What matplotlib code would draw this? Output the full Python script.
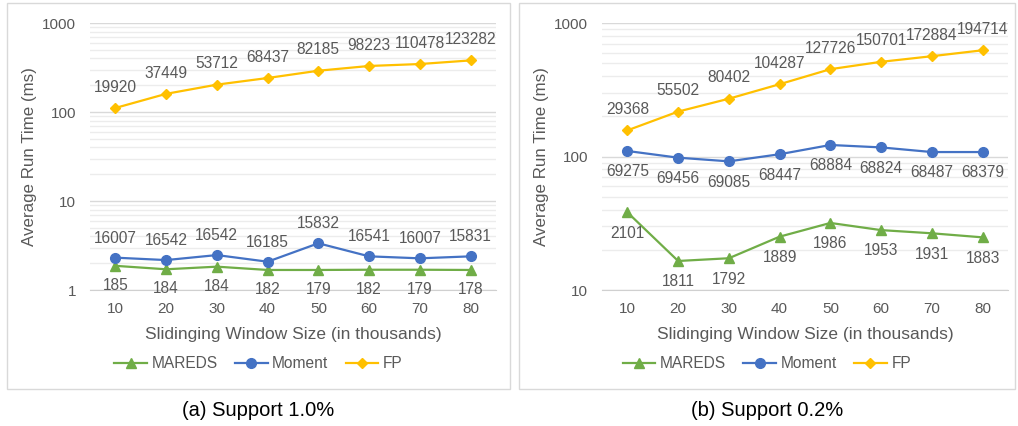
import matplotlib.pyplot as plt
import matplotlib.ticker as mticker
from matplotlib.patches import Rectangle
import numpy as np

plt.rcParams['font.family'] = ['Liberation Sans', 'DejaVu Sans']

# Datos
windows = ["10", "20", "30", "40", "50", "60", "70", "80"]

# (a) Support 1.0%
mareds_a = [1.87, 1.71, 1.83, 1.68, 1.68, 1.69, 1.69, 1.68]
moment_a = [2.31, 2.17, 2.47, 2.08, 3.35, 2.39, 2.27, 2.39]
fp_a = [111, 160, 203, 241, 291, 329, 346, 380]
mareds_a_lbl = ["185", "184", "184", "182", "179", "182", "179", "178"]
moment_a_lbl = ["16007", "16542", "16542", "16185", "15832", "16541", "16007", "15831"]
fp_a_lbl = ["19920", "37449", "53712", "68437", "82185", "98223", "110478", "123282"]

# (b) Support 0.2%
mareds_b = [38.2, 16.5, 17.3, 25.1, 31.8, 28.1, 26.6, 24.8]
moment_b = [110, 98, 92, 104, 122, 117, 108, 108]
fp_b = [157, 217, 271, 348, 451, 512, 564, 625]
mareds_b_lbl = ["2101", "1811", "1792", "1889", "1986", "1953", "1931", "1883"]
moment_b_lbl = ["69275", "69456", "69085", "68447", "68884", "68824", "68487", "68379"]
fp_b_lbl = ["29368", "55502", "80402", "104287", "127726", "150701", "172884", "194714"]

GREEN = "#70AD47"
BLUE = "#4472C4"
GOLD = "#FFC000"
TXT = "#595959"
FS = 11.2

fig = plt.figure(figsize=(10.18, 4.26), dpi=100)


def panel(left, vals, lbls, ylim, box, caption):
    ax = fig.add_axes([left, 0.3192, 0.3988, 0.6268])
    x = np.arange(len(windows))
    styles = [("MAREDS", GREEN, "^", 7), ("Moment", BLUE, "o", 7), ("FP", GOLD, "D", 5.5)]
    for (name, c, m, ms), v in zip(styles, vals):
        ax.plot(x, v, color=c, marker=m, markersize=ms, linewidth=1.6, label=name, zorder=3)
    # etiquetas de dados
    for v, lb, off in lbls:
        for xi, yi, t in zip(x, v, lb):
            ax.annotate(t, (xi, yi), xytext=(0, off), textcoords="offset points",
                        ha="center", va="center", fontsize=FS, color=TXT)
    ax.set_yscale("log")
    ax.set_ylim(*ylim)
    ax.set_xlim(-0.5, len(windows) - 0.5)
    ax.set_xticks(x)
    ax.set_xticklabels(windows)
    ax.yaxis.set_major_formatter(mticker.FuncFormatter(lambda v, p: "%d" % v))
    ax.yaxis.set_minor_locator(mticker.LogLocator(base=10, subs=np.arange(2, 10)))
    ax.yaxis.set_minor_formatter(mticker.NullFormatter())
    ax.grid(which="major", axis="y", color="#d9d9d9", linewidth=1.0, zorder=0)
    ax.grid(which="minor", axis="y", color="#ececec", linewidth=1.0, zorder=0)
    for s in ["top", "right", "left"]:
        ax.spines[s].set_visible(False)
    ax.spines["bottom"].set_color("#d0d0d0")
    ax.tick_params(axis="both", which="both", length=0, labelsize=11, labelcolor=TXT)
    ax.tick_params(axis="x", pad=8.5)
    ax.tick_params(axis="y", pad=10)
    ax.set_xlabel("Slidinging Window Size (in thousands)", fontsize=12.5, color=TXT, labelpad=8)
    ax.set_ylabel("Average Run Time (ms)", fontsize=12.2, color=TXT, labelpad=4)
    bx0, bx1 = box
    leg = ax.legend(loc="center", bbox_to_anchor=((bx0 + bx1) / 2, 62 / 426),
                    bbox_transform=fig.transFigure, ncol=3, frameon=False,
                    fontsize=FS, handlelength=2.1, columnspacing=1.1, handletextpad=0.3)
    for t in leg.get_texts():
        t.set_color(TXT)
    fig.add_artist(Rectangle((bx0, 1 - 389 / 426), bx1 - bx0, (389 - 3) / 426,
                             transform=fig.transFigure, fill=False,
                             edgecolor="#d9d9d9", linewidth=1.0))
    fig.text((bx0 + bx1) / 2, 1 - 410 / 426, caption, ha="center", va="center", fontsize=14.5)
    return ax


panel(90 / 1018,
      [mareds_a, moment_a, fp_a],
      [(mareds_a, mareds_a_lbl, -14), (moment_a, moment_a_lbl, 14), (fp_a, fp_a_lbl, 15)],
      (1, 1000), (7 / 1018, 510 / 1018), "(a) Support 1.0%")

panel(602 / 1018,
      [mareds_b, moment_b, fp_b],
      [(mareds_b, mareds_b_lbl, -15), (moment_b, moment_b_lbl, -15), (fp_b, fp_b_lbl, 15)],
      (10, 1000), (519 / 1018, 1015 / 1018), "(b) Support 0.2%")

plt.savefig("out.png", dpi=100)
